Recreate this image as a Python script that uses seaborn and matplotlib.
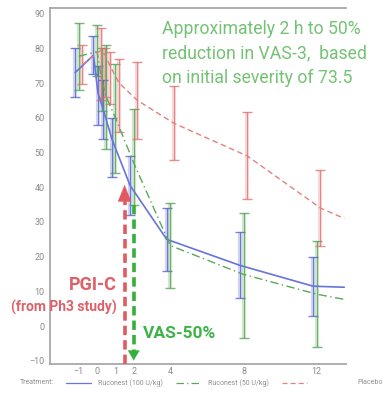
import numpy as np
import pandas as pd
import matplotlib
matplotlib.use("Agg")
import matplotlib.pyplot as plt
import seaborn as sns
from matplotlib.lines import Line2D

# ---- data ----
times = [-1, 0, 0.25, 0.5, 1, 2, 4, 8, 12]
blue_mean = [73, 78, 67, 63, 54, 40.5, 25, 17.5, 11.5]
blue_lo = [66, 72.5, 58, 54, 43, 32, 16, 8, 3]
blue_hi = [80, 83.5, 75, 71, 60, 49, 34, 27, 20]
green_mean = [77.7, 79, 71, 66, 60, 47, 23.2, 14.9, 9.2]
green_lo = [68, 72, 62, 51, 44, 35, 11, -3.4, -6]
green_hi = [87.4, 86.8, 80, 81, 75.6, 62.5, 35.5, 32.7, 24.6]
red_mean = [75.3, 79.4, 78, 75, 70, 65, 58.4, 49, 34]
red_lo = [69.6, 65, 66, 64, 56, 54, 47.8, 36.7, 23]
red_hi = [81, 85.7, 80, 79, 77, 76, 69, 61.6, 45]
fit_end_time = 13.5
blue_end, green_end, red_end = 11.2, 7.7, 31
labels = ["Ruconest (100 U/kg)", "Ruconest (50 U/kg)", "Placebo"]
xticks = [-1, 0, 1, 2, 4, 8, 12]
yticks = list(range(-10, 100, 10))
pgi_time = 1.5
vas_time = 2.0

sns.set_theme(style="white")
plt.rcParams["font.family"] = ["Roboto", "DejaVu Sans"]

fig = plt.figure(figsize=(3.85, 4.0), dpi=100)
ax = fig.add_axes([0.13, 0.09, 0.769, 0.89])

series = [
    (blue_mean, blue_lo, blue_hi, blue_end, -0.2, "#4a5acc", "#6674dc", "-", 1.2),
    (green_mean, green_lo, green_hi, green_end, 0.0, "#4a9e4a", "#5aa85a", (0, (6, 2.5, 1, 2.5)), 1.0),
    (red_mean, red_lo, red_hi, red_end, 0.2, "#e06a6a", "#e38080", (0, (4, 2.5)), 1.0),
]

for mean, lo, hi, end, dodge, ecol, lcol, ls, lw in series:
    x = np.array(times) + dodge
    m = np.array(mean)
    err = [m - np.array(lo), np.array(hi) - m]
    ax.errorbar(x, m, yerr=err, fmt="none", ecolor=ecol, elinewidth=3.0,
                alpha=0.25, capsize=0, zorder=2)
    ax.errorbar(x, m, yerr=err, fmt="none", ecolor=ecol, elinewidth=0.8,
                alpha=0.75, capsize=3.5, capthick=1.0, zorder=3)
    lx = list(x) + [fit_end_time]
    ly = list(m) + [end]
    sns.lineplot(x=lx, y=ly, ax=ax, color=lcol, linestyle=ls, lw=lw,
                 sort=False, estimator=None, zorder=4)

# vertical arrows
ax.plot([pgi_time, pgi_time], [-11, 36.5], color="#e05a5f", lw=2.6,
        linestyle=(0, (2.6, 1.4)), zorder=5, clip_on=False)
ax.annotate("", xy=(pgi_time, 41.5), xytext=(pgi_time, 36),
            arrowprops=dict(arrowstyle="-|>,head_width=0.4,head_length=1.0",
                            color="#e05a5f", lw=0.1), zorder=5)
ax.plot([vas_time, vas_time], [35, -7.5], color="#34b03a", lw=2.6,
        linestyle=(0, (2.6, 1.4)), zorder=5)
ax.annotate("", xy=(vas_time, -10.7), xytext=(vas_time, -7),
            arrowprops=dict(arrowstyle="-|>,head_width=0.35,head_length=0.6",
                            color="#34b03a", lw=0.1), zorder=5, annotation_clip=False)

ax.set_xlim(-2.57, 13.6)
ax.set_ylim(-10.9, 91.6)
ax.set_xticks(xticks)
ax.set_yticks(yticks)
ax.set_xlabel("")
ax.set_ylabel("")
ax.tick_params(axis="both", length=0, labelsize=6.5, labelcolor="#8a8a8a")
ax.tick_params(axis="y", pad=4)
ax.tick_params(axis="x", pad=2.5)
for s in ["left", "top", "bottom"]:
    ax.spines[s].set_color("#a8a8a8")
    ax.spines[s].set_linewidth(1.3)
ax.spines["right"].set_visible(False)

# annotation texts
fig.text(162 / 385, 1 - 20 / 400,
         "Approximately 2 h to 50%\nreduction in VAS-3,  based\non initial severity of 73.5",
         color="#74c274", fontsize=12.7, fontweight="normal", va="top", ha="left",
         linespacing=1.45)
fig.text(117 / 385, 1 - 285 / 400, "PGI-C", color="#e06068", fontsize=13,
         fontweight="bold", ha="right", va="center")
fig.text(117 / 385, 1 - 307 / 400, "(from Ph3 study)", color="#e06068", fontsize=10,
         fontweight="bold", ha="right", va="center")
fig.text(143 / 385, 1 - 334 / 400, "VAS-50%", color="#3fb347", fontsize=12.5,
         fontweight="bold", ha="left", va="center")

# legend
handles = [Line2D([], [], color=s[6], linestyle=s[7], lw=0.9) for s in series]
fig.text(20 / 385, 1 - 383 / 400, "Treatment:", fontsize=5, color="#909090", va="center")
leg = fig.legend(handles, [labels[0], labels[1], ""], ncol=3, loc="center left",
                 bbox_to_anchor=(66 / 385, 1 - 383 / 400), frameon=False, fontsize=5,
                 handlelength=3.6, handletextpad=1.0, columnspacing=1.9,
                 borderpad=0, borderaxespad=0)
for t in leg.get_texts():
    t.set_color("#909090")
fig.text(383 / 385, 1 - 383 / 400, labels[2], fontsize=5, color="#909090",
         va="center", ha="right")

fig.savefig("out.png", dpi=100)
